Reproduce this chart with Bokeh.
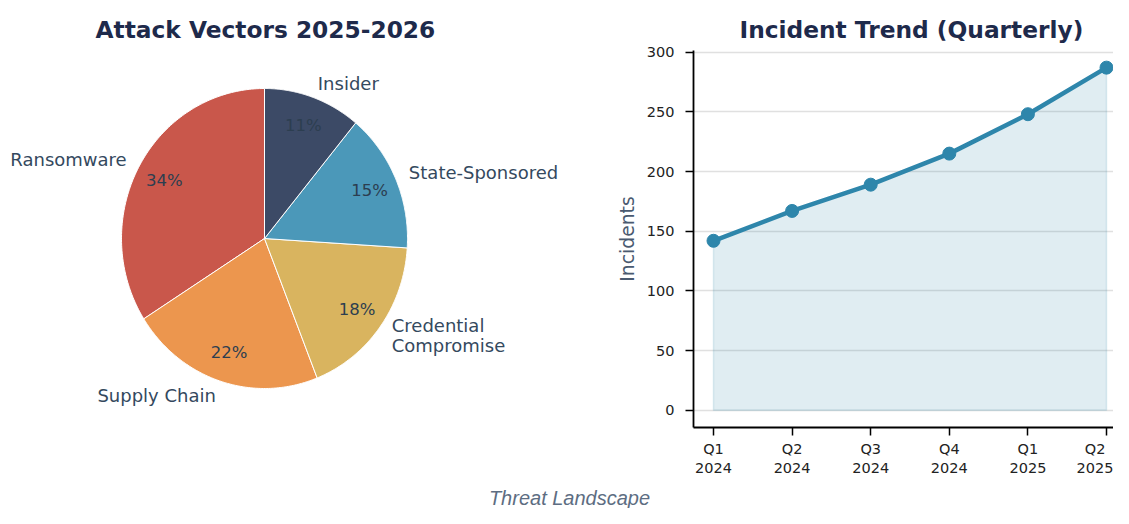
import numpy as np
from bokeh.plotting import figure
from bokeh.layouts import column, row
from bokeh.models import Range1d, FixedTicker, Title, ColumnDataSource
from bokeh.core.properties import value
from bokeh.embed import file_html
from bokeh.resources import INLINE

# ---------------- data ----------------
vectors = ["Ransomware", "Supply Chain", "Credential\nCompromise", "State-Sponsored", "Insider"]
shares = [34, 22, 18, 15, 11]
pie_colors = ["#c9574b", "#ec964e", "#d9b45f", "#4b98b9", "#3c4a66"]

quarters = ["Q1\n2024", "Q2\n2024", "Q3\n2024", "Q4\n2024", "Q1\n2025", "Q2\n2025"]
incidents = [142, 167, 189, 215, 248, 287]
y_ticks = [0, 50, 100, 150, 200, 250, 300]

FONT_NAME = "DejaVu Sans"
FONT = value(FONT_NAME)
NAVY = "#1e2a4b"
SLATE = "#34495e"

H = 478            # height of the top row
TOP, BOTTOM = 50, 427   # frame edges (shared by both plots in the row)

# ---------------- pie ----------------
W1 = 598
p1 = figure(width=W1, height=H, x_range=Range1d(0, W1), y_range=Range1d(BOTTOM, TOP),
            x_axis_type=None, y_axis_type=None, toolbar_location=None,
            output_backend="svg", min_border_left=0, min_border_right=0,
            min_border_top=TOP, min_border_bottom=H - BOTTOM)
p1.outline_line_color = None
p1.grid.visible = False

cx, cy, rx, ry = 264, 238, 143, 150
total = float(sum(shares))
xs, ys, lx, ly, la, px, py, pt = [], [], [], [], [], [], [], []
a0 = 90.0
for v, name in zip(shares, vectors):
    a1 = a0 + v / total * 360.0
    th = np.radians(np.linspace(a0, a1, 120))
    xs.append([cx] + list(cx + rx * np.cos(th)))
    ys.append([cy] + list(cy - ry * np.sin(th)))
    mid = np.radians((a0 + a1) / 2)
    lx.append(cx + 1.1 * rx * np.cos(mid))
    ly.append(cy - 1.1 * ry * np.sin(mid))
    la.append("left" if np.cos(mid) > 0 else "right")
    px.append(cx + 0.8 * rx * np.cos(mid))
    py.append(cy - 0.8 * ry * np.sin(mid))
    pt.append(f"{v / total * 100:.0f}%")
    a0 = a1

p1.patches(xs, ys, fill_color=pie_colors, line_color="white", line_width=1)
lsrc = ColumnDataSource(dict(x=lx, y=ly, text=vectors, align=la))
p1.text(x="x", y="y", text="text", text_align="align", text_baseline="middle",
        source=lsrc, text_font=FONT, text_font_size="18px", text_color=SLATE,
        text_line_height=0.98)
p1.text(x=px, y=py, text=pt, text_align="center", text_baseline="middle",
        text_font=FONT, text_font_size="16.5px", text_color="#2c3e50")
p1.title = Title(text="Attack Vectors 2025-2026", align="left", offset=95,
                 text_font=FONT_NAME, text_font_size="23.3px", text_font_style="bold",
                 text_color=NAVY, standoff=15)

# ---------------- line chart ----------------
W2 = 1113 - W1
p2 = figure(width=W2, height=H, x_range=Range1d(-0.2545, 5.089),
            y_range=Range1d(-14.35, 301.35), toolbar_location=None,
            output_backend="svg", min_border_left=95, min_border_right=0,
            min_border_top=TOP, min_border_bottom=H - BOTTOM)
p2.outline_line_color = None
p2.xgrid.visible = False
p2.ygrid.grid_line_color = "#e0e0e0"
p2.ygrid.grid_line_width = 1.5
p2.ygrid.ticker = FixedTicker(ticks=y_ticks)

xi = list(range(len(incidents)))
p2.patch(xi + [xi[-1], xi[0]], incidents + [0, 0], fill_color="#2e86ab",
         fill_alpha=0.15, line_color="#2e86ab", line_alpha=0.15, line_width=1.5)
p2.line(xi, incidents, line_color="#2e86ab", line_width=4.5)
p2.scatter(xi, incidents, size=13, fill_color="#2e86ab", line_color="#2e86ab")

for ax in (p2.xaxis[0], p2.yaxis[0]):
    ax.axis_line_width = 1.8
    ax.axis_line_color = "black"
    ax.major_tick_line_width = 1.5
    ax.major_tick_line_color = "black"
    ax.major_tick_out = 8
    ax.major_tick_in = 0
    ax.minor_tick_line_color = None
    ax.major_label_text_font = FONT_NAME
    ax.major_label_text_font_size = "14.5px"
    ax.major_label_text_color = "#222222"

p2.xaxis.ticker = FixedTicker(ticks=xi)
p2.xaxis.major_label_overrides = {i: q for i, q in zip(xi, quarters)}
p2.xaxis.major_label_standoff = 5
p2.yaxis.ticker = FixedTicker(ticks=y_ticks)
p2.yaxis.major_label_standoff = 11
p2.yaxis.axis_label = "Incidents"
p2.yaxis.axis_label_text_font = FONT_NAME
p2.yaxis.axis_label_text_font_size = "18.8px"
p2.yaxis.axis_label_text_font_style = "normal"
p2.yaxis.axis_label_text_color = "#4a5a70"
p2.yaxis.axis_label_standoff = 6

p2.title = Title(text="Incident Trend (Quarterly)", align="left", offset=46,
                 text_font=FONT_NAME, text_font_size="23.3px", text_font_style="bold",
                 text_color=NAVY, standoff=15)

# ---------------- caption ----------------
W3, H3 = 1113, 508 - H
p3 = figure(width=W3, height=H3, x_range=Range1d(0, W3), y_range=Range1d(H3, 0),
            x_axis_type=None, y_axis_type=None, toolbar_location=None,
            output_backend="svg", min_border=0)
p3.outline_line_color = None
p3.grid.visible = False
p3.text(x=[569], y=[19], text=["Threat Landscape"], text_align="center",
        text_baseline="alphabetic", text_font=value("Liberation Sans"),
        text_font_size="20px", text_font_style="italic", text_color="#5d6d82")

layout = column(row(p1, p2), p3)
open("out.html", "w").write(file_html(layout, INLINE))
